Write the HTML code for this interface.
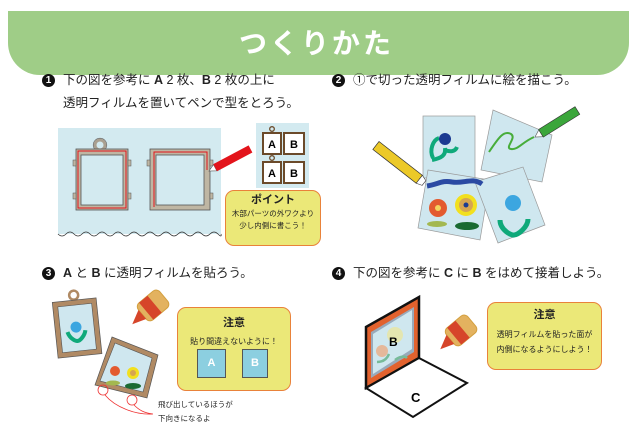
<!DOCTYPE html>
<html><head><meta charset="utf-8"><style>
body{margin:0;width:633px;height:438px;background:#fff;overflow:hidden;position:relative;font-family:"Liberation Sans","Noto Sans CJK JP",sans-serif;color:#222}
.t{position:absolute;font-size:12.5px;white-space:nowrap}
.b{display:inline-block;width:13px;height:13px;border-radius:50%;background:#111;color:#fff;font-size:10px;font-weight:bold;text-align:center;line-height:13px;vertical-align:1px;margin-right:8px}
svg{position:absolute;left:0;top:0}
.box{position:absolute;background:#ebe878;border:1.5px solid #e9823a;border-radius:9px;text-align:center;font-size:8px}
</style></head><body>
<div style="position:absolute;left:8px;top:11px;width:621px;height:64px;background:#9fcd87;border-radius:0 0 32px 32px"></div>
<div style="position:absolute;left:0;width:633px;top:27px;text-align:center;color:#fff;font-size:28px;font-weight:bold;letter-spacing:3px;line-height:34px">つくりかた</div>
<div class="t" style="left:42px;top:69px"><span class="b">1</span>下の図を参考に <b>A</b> 2 枚、<b>B</b> 2 枚の上に</div>
<div class="t" style="left:63px;top:92px">透明フィルムを置いてペンで型をとろう。</div>
<div class="t" style="left:332px;top:69px"><span class="b">2</span>①で切った透明フィルムに絵を描こう。</div>
<div class="t" style="left:42px;top:262px"><span class="b">3</span><b>A</b> と <b>B</b> に透明フィルムを貼ろう。</div>
<div class="t" style="left:332px;top:262px"><span class="b">4</span>下の図を参考に <b>C</b> に <b>B</b> をはめて接着しよう。</div>
<svg width="633" height="438">
<!-- step1 -->
<rect x="58" y="128" width="163" height="106" fill="#d3eaf0"/>
<path d="M58 234 q4 4 8 0 q4-4 8 0 q4 4 8 0 q4-4 8 0 q4 4 8 0 q4-4 8 0 q4 4 8 0 q4-4 8 0 q4 4 8 0 q4-4 8 0 q4 4 8 0 q4-4 8 0 q4 4 8 0 q4-4 8 0 q4 4 8 0 q4-4 8 0 q4 4 8 0 q4-4 8 0 q4 4 8 0 q4-4 8 0 q4 4 3 0" fill="none" stroke="#333" stroke-width="0.8"/>
<circle cx="100" cy="145" r="5" fill="none" stroke="#aaa090" stroke-width="3"/>
<circle cx="100" cy="145" r="6.8" fill="none" stroke="#666" stroke-width=".6"/>
<rect x="76" y="149" width="52" height="61" fill="#bfb6a3" stroke="#555" stroke-width=".8"/>
<rect x="78" y="151" width="48" height="57" fill="none" stroke="#e3141b" stroke-width="1"/>
<rect x="81" y="155" width="42" height="50" fill="#d3eaf0" stroke="#555" stroke-width=".8"/>
<rect x="73" y="160" width="3" height="6" fill="#bfb6a3" stroke="#555" stroke-width=".5"/>
<rect x="128" y="160" width="3" height="6" fill="#bfb6a3" stroke="#555" stroke-width=".5"/>
<rect x="73" y="193" width="3" height="6" fill="#bfb6a3" stroke="#555" stroke-width=".5"/>
<rect x="128" y="193" width="3" height="6" fill="#bfb6a3" stroke="#555" stroke-width=".5"/>
<rect x="150" y="149" width="60" height="61" fill="#bfb6a3" stroke="#555" stroke-width=".8"/>
<path d="M154 207V152H207V170" fill="none" stroke="#e3141b" stroke-width="1"/>
<rect x="156" y="155" width="48" height="50" fill="#d3eaf0" stroke="#555" stroke-width=".8"/>
<rect x="210" y="160" width="3" height="6" fill="#bfb6a3" stroke="#555" stroke-width=".5"/>
<rect x="210" y="193" width="3" height="6" fill="#bfb6a3" stroke="#555" stroke-width=".5"/>
<rect x="147" y="160" width="3" height="6" fill="#bfb6a3" stroke="#555" stroke-width=".5"/>
<g transform="translate(209,171) rotate(-28)">
<polygon points="0,0 7,-3.5 7,3.5" fill="#fff" stroke="#555" stroke-width=".6"/>
<rect x="7" y="-4" width="40" height="8" fill="#e3141b"/>
</g>
<rect x="256" y="123" width="53" height="65" fill="#d3eaf0"/>
<g font-family="Liberation Sans" font-weight="bold" font-size="11" text-anchor="middle">
<rect x="263" y="133" width="18" height="21" fill="#fff" stroke="#6b4a2a" stroke-width="2"/><text x="272" y="148">A</text>
<rect x="284" y="133" width="20" height="21" fill="#fff" stroke="#6b4a2a" stroke-width="2"/><text x="294" y="148">B</text>
<rect x="263" y="162" width="18" height="21" fill="#fff" stroke="#6b4a2a" stroke-width="2"/><text x="272" y="177">A</text>
<rect x="284" y="162" width="20" height="21" fill="#fff" stroke="#6b4a2a" stroke-width="2"/><text x="294" y="177">B</text>
<circle cx="272" cy="129" r="2.3" fill="none" stroke="#6b4a2a" stroke-width="1.3"/>
<circle cx="272" cy="158" r="2.3" fill="none" stroke="#6b4a2a" stroke-width="1.3"/>
</g>
<!-- step2 -->
<g stroke="#999" stroke-width=".7" fill="#cfe7ef">
<rect x="423" y="116" width="52" height="62"/>
<polygon points="493,110 552,135 542,182 481,170"/>
<polygon points="428,170 490,180 480,240 418,228"/>
<polygon points="475,182 523,167 545,225 498,243"/>
</g>
<path d="M432 160c10-2 14-5 13-12M445 150c5 2 10 2 12-3" fill="none" stroke="#0fa97a" stroke-width="4"/>
<path d="M433 158c-4-8 0-18 6-20" fill="none" stroke="#0fa97a" stroke-width="4"/>
<circle cx="445" cy="139" r="6" fill="#1b3a91"/>
<path d="M489 152c10-15 15-22 22-18 6 4-7 14 0 15s10-6 23-12" fill="none" stroke="#47ad3a" stroke-width="2"/>
<g transform="translate(535,137) rotate(-32)"><polygon points="0,0 7,-4 7,4" fill="#fff" stroke="#555" stroke-width=".6"/><rect x="7" y="-4.5" width="43" height="9" fill="#3ba63b" stroke="#333" stroke-width=".6"/></g>
<g transform="translate(424,183) rotate(-142)"><rect x="6" y="-5" width="55" height="10" fill="#ecc928" stroke="#333" stroke-width=".7"/><polygon points="0,-3 6,-5 6,5 0,3" fill="#fff" stroke="#333" stroke-width=".6"/></g>
<path d="M427 186c12-2 15-6 25-4 12 2 20-5 30 2" fill="none" stroke="#2b4aa3" stroke-width="5"/>
<circle cx="438" cy="208" r="9" fill="#e35a2f"/><circle cx="438" cy="208" r="3" fill="#f4d35e"/>
<circle cx="466" cy="205" r="11" fill="#f2e01e"/><circle cx="466" cy="205" r="7" fill="#d6a550"/><circle cx="466" cy="205" r="2.5" fill="#1b3a91"/>
<ellipse cx="437" cy="224" rx="10" ry="3" fill="#a3b850"/><ellipse cx="467" cy="226" rx="12" ry="4" fill="#1a6a32"/>
<circle cx="513" cy="203" r="8" fill="#3ca6e0"/>
<path d="M500 220c0 10 12 16 14 15 4 0 14-8 14-16" fill="none" stroke="#0fa97a" stroke-width="5"/>
<!-- step3 -->
<g transform="rotate(-6 77 327)">
<circle cx="77" cy="295" r="4.5" fill="none" stroke="#b08a64" stroke-width="2.5"/>
<rect x="55" y="300" width="44" height="56" fill="#b08a64" stroke="#555" stroke-width=".7"/>
<rect x="60" y="305" width="34" height="46" fill="#cfe7ef" stroke="#555" stroke-width=".6"/>
<circle cx="76" cy="327" r="5.5" fill="#3ca6e0"/>
<path d="M67 331c2 8 8 10 9 10 3 0 8-5 9-10" fill="none" stroke="#0fa97a" stroke-width="4"/>
</g>
<polygon points="112,337 158,355 147,398 95,385" fill="#b08a64" stroke="#555" stroke-width=".7"/>
<polygon points="115,343 152,358 143,392 100,381" fill="#cfe7ef" stroke="#555" stroke-width=".6"/>
<circle cx="115" cy="371" r="5" fill="#e35a2f"/><circle cx="133" cy="373" r="6" fill="#f2e01e"/><circle cx="133" cy="373" r="3" fill="#d6a550"/>
<ellipse cx="113" cy="383" rx="7" ry="2.5" fill="#a3b850"/><ellipse cx="133" cy="386" rx="8" ry="3" fill="#1a6a32"/>
<circle cx="103" cy="390" r="5" fill="none" stroke="#e33" stroke-width=".8"/>
<circle cx="132" cy="400" r="5" fill="none" stroke="#e33" stroke-width=".8"/>
<path d="M105 395c10 12 30 20 48 19M134 405c5 5 10 8 19 9" fill="none" stroke="#e33" stroke-width=".8"/>
<g transform="translate(150,308) rotate(50)"><rect x="-11" y="-18" width="22" height="28" rx="5" fill="#e3b25f" stroke="#d3a040"/><rect x="-11" y="-6" width="22" height="11" fill="#d6452a"/><polygon points="-6,10 6,10 1,24" fill="#d6452a"/></g>
<!-- step4 -->
<polygon points="366,327 419,297 419,358 366,388" fill="#e2622e" stroke="#111" stroke-width="2.5"/>
<polygon points="371,332 414,307 414,352 371,378" fill="#9ab" />
<polygon points="373,334 412,310 412,349 373,374" fill="#cfe7ef"/>
<circle cx="395" cy="335" r="8" fill="#e8e6a0" opacity=".8"/><circle cx="382" cy="351" r="6" fill="#e5b89a"/>
<path d="M377 362c6 0 10-3 12-8M395 360c5-4 10-4 12-2" fill="none" stroke="#7b9" stroke-width="2.5"/>
<text x="389" y="346" font-size="12" font-weight="bold" font-family="Liberation Sans">B</text>
<polygon points="366,388 419,358 467,383 413,417" fill="#fff" stroke="#111" stroke-width="2"/>
<text x="411" y="402" font-size="13" font-weight="bold" font-family="Liberation Sans">C</text>
<g transform="translate(458,333) rotate(50)"><rect x="-11" y="-18" width="22" height="28" rx="5" fill="#e3b25f" stroke="#d3a040"/><rect x="-11" y="-6" width="22" height="11" fill="#d6452a"/><polygon points="-6,10 6,10 1,24" fill="#d6452a"/></g>
</svg>
<div class="box" style="left:225px;top:190px;width:94px;height:54px;font-size:7.5px;line-height:12px"><div style="font-size:11px;font-weight:bold;margin:3px 0 2px">ポイント</div>木部パーツの外ワクより<br>少し内側に書こう！</div>
<div class="box" style="left:177px;top:307px;width:112px;height:82px"><div style="font-size:11px;font-weight:bold;margin:6px 0 6px">注意</div>貼り間違えないように！
<div style="position:absolute;left:19px;top:41px;width:27px;height:27px;background:#8ccfe0;border:1px solid #555;color:#fff;font-weight:bold;font-size:11px;line-height:27px">A</div>
<div style="position:absolute;left:64px;top:41px;width:24px;height:27px;background:#8ccfe0;border:1px solid #555;color:#fff;font-weight:bold;font-size:11px;line-height:27px">B</div></div>
<div class="box" style="left:487px;top:302px;width:113px;height:66px;line-height:15px"><div style="font-size:11px;font-weight:bold;margin:5px 0 4px">注意</div>透明フィルムを貼った面が<br>内側になるようにしよう！</div>
<div class="t" style="left:158px;top:398px;font-size:7.5px;line-height:14px">飛び出しているほうが<br>下向きになるよ</div>
</body></html>
